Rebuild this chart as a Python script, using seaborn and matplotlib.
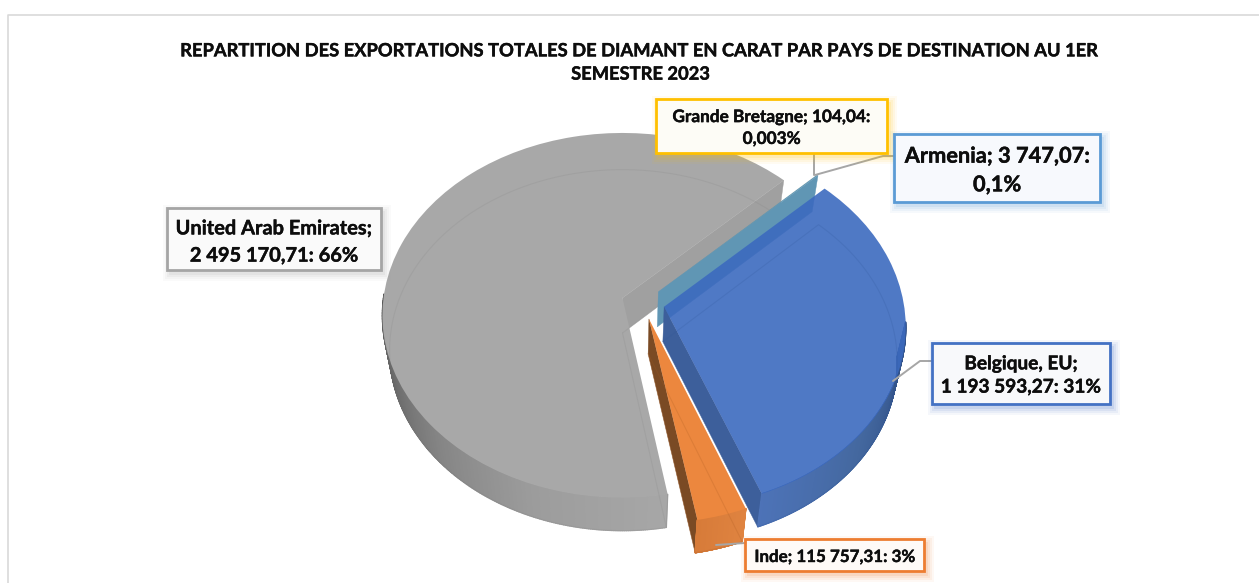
import numpy as np
import matplotlib
matplotlib.use("Agg")
import matplotlib.pyplot as plt
import matplotlib.patheffects as pe
import seaborn as sns
from matplotlib.transforms import Transform
from matplotlib.patches import Rectangle
from matplotlib.collections import PolyCollection

# ---- data ----
countries = ["United Arab Emirates", "Inde", "Belgique, EU", "Armenia", "Grande Bretagne"]
carats = [2495170.71, 115757.31, 1193593.27, 3747.07, 104.04]
label_lines = [
    "United Arab Emirates;\n2 495 170,71: 66%",
    "Inde; 115 757,31: 3%",
    "Belgique, EU;\n1 193 593,27: 31%",
    "Armenia; 3 747,07:\n0,1%",
    "Grande Bretagne; 104,04:\n0,003%",
]
title_text = ("REPARTITION DES EXPORTATIONS TOTALES DE DIAMANT EN CARAT PAR PAYS DE DESTINATION AU 1ER\n"
              "SEMESTRE 2023")

# ---- style ----
top_colors = ["#a8a8a8", "#ec873e", "#3c6abf", "#6096b4", "#ffc000"]
top_alpha = [1, 1, .90, 1, 1]
explode = [.09] * 5
START = 44
DEPTH = 35

sns.set_theme(style="white")
plt.rcParams["font.family"] = ["Lato", "DejaVu Sans"]
heavy = [pe.withStroke(linewidth=0.3, foreground="#0d0d0d")]


class Persp(Transform):
    """Maps the pie's plane onto a tilted disc seen in perspective."""
    input_dims = output_dims = 2
    is_separable = False
    has_inverse = False
    is_affine = False
    cx, cy, R, k, p = 622.5, 298.0, 239.0, 180.7, 0.095

    def __init__(self, dz=0.0, sx=1.0, sy=1.0):
        super().__init__()
        self.dz, self.sx, self.sy = dz, sx, sy

    def transform_non_affine(self, xy):
        xy = np.asarray(xy, float)
        w = 1 + self.p * xy[:, 1]
        X = self.cx + self.sx * self.R * xy[:, 0] / w
        Y = self.cy - self.sy * self.k * xy[:, 1] / w + self.dz
        return np.column_stack([X, Y])


top_map = Persp()
bot_map = Persp(DEPTH, 0.97, 0.99)

fig = plt.figure(figsize=(12.59, 5.83), dpi=100)
ax = fig.add_axes([0, 0, 1, 1])
wedges, _ = ax.pie(carats, explode=explode, startangle=START, colors=top_colors,
                   center=(0.0856, -0.0278), radius=1.0, wedgeprops=dict(linewidth=0))
ax.set_aspect("auto")
ax.set_xlim(0, 1259)
ax.set_ylim(583, 0)
ax.axis("off")
for w, a in zip(wedges, top_alpha):
    w.set_transform(top_map + ax.transData)
    w.set_alpha(a)
    w.set_linewidth(0)


def rim(w, thetas, mp):
    t = np.radians(thetas)
    pts = np.column_stack([w.center[0] + w.r * np.cos(t), w.center[1] + w.r * np.sin(t)])
    return mp.transform(pts)


def apex(w, mp):
    return mp.transform(np.array([w.center], float))[0]


def outer_wall(w, stops_t, stops_c, z, limit=0.03):
    th = np.linspace(w.theta1, w.theta2, 500)
    th = th[np.sin(np.radians(th)) < limit]
    a, b = rim(w, th, top_map), rim(w, th, bot_map)
    quads = [[a[i], a[i + 1], b[i + 1], b[i]] for i in range(len(th) - 1)]
    rgb = np.array([matplotlib.colors.to_rgb(c) for c in stops_c])
    mid = (th[:-1] + th[1:]) / 2 % 360
    cols = np.column_stack([np.interp(mid, stops_t, rgb[:, j]) for j in range(3)])
    ax.add_collection(PolyCollection(quads, facecolors=cols, edgecolors=cols, linewidths=1.0, zorder=z))


def side_wall(w, theta, color, z, alpha=1.0):
    a0, a1 = apex(w, top_map), rim(w, [theta], top_map)[0]
    b0, b1 = apex(w, bot_map), rim(w, [theta], bot_map)[0]
    ax.fill(*zip(a0, a1, b1, b0), color=color, lw=.3, zorder=z, alpha=alpha)


def ghost(w, color, z, alpha=.12):
    th = np.linspace(w.theta1, w.theta2, 200)
    r = rim(w, th, bot_map)
    c = apex(w, bot_map)
    pts = np.vstack([c, r, c])
    ax.plot(pts[:, 0], pts[:, 1], color=color, lw=.8, alpha=alpha, zorder=z)


uae, inde, belg, arm, gb = wedges

# grey slice
side_wall(uae, uae.theta1, "#a0a0a0", 1)
outer_wall(uae, [180, 195, 225, 250, 285], ["#565656", "#636363", "#868686", "#9c9c9c", "#a9a9a9"], 1)
uae.set_zorder(2)
ghost(uae, "#6e6e6e", 3)
e0, e1 = rim(uae, [uae.theta2], top_map)[0], rim(uae, [uae.theta2], bot_map)[0]
ax.plot([e0[0], e1[0]], [e0[1], e1[1]], color="#9a9a9a", lw=.6, zorder=3)

# thin slices
side_wall(arm, arm.theta1, "#6096b4", 4)
arm.set_zorder(5)
gb.set_zorder(5)

# orange slice
side_wall(inde, inde.theta1, "#7a4a24", 6)
outer_wall(inde, [279, 292], ["#d67a38", "#e08441"], 6)
inde.set_zorder(7)
ghost(inde, "#a85a20", 8, alpha=.22)

# blue slice
side_wall(belg, belg.theta1, "#3d5f9b", 9)
outer_wall(belg, [0, 290, 320, 345, 360], ["#2b4a80", "#4d73b8", "#44689f", "#34558c", "#2b4a80"], 9, limit=-0.08)
belg.set_zorder(10)
ghost(belg, "#2f5597", 11, alpha=.2)

# leader lines
leaders = [
    ([814, 814], [153, 175]),
    ([894, 883, 815], [156, 156, 175]),
    ([932, 920, 893], [361, 361, 381]),
    ([745, 716], [543, 545]),
]
for xs, ys in leaders:
    ax.plot(xs, ys, color="#a6a6a6", lw=1.4, zorder=12)

# label boxes (x0, y0, x1, y1, edge, face, font size, text shift)
boxes = [
    (167, 208, 381, 270, "#a5a5a5", "#fafafa", 14.4, 3),
    (745, 539, 924, 571, "#ed7d31", "#fefaf7", 12.2, 2),
    (932, 343, 1110, 404, "#4472c4", "#f8f9fb", 13.7, 2),
    (894, 134, 1100, 202, "#5b9bd5", "#f7f9fd", 15.7, 2.5),
    (656, 99, 887, 153, "#ffc000", "#fdfcf6", 12.4, 2),
]
for (x0, y0, x1, y1, ec, fc, fs, dy), txt in zip(boxes, label_lines):
    for g, al in zip((7, 5, 3, 1), (.05, .07, .09, .12)):
        ax.add_patch(Rectangle((x0 + 3 - g, y0 + 4 - g), x1 - x0 + 2 * g, y1 - y0 + 2 * g,
                               fc=ec, ec="none", alpha=al, zorder=13))
    ax.add_patch(Rectangle((x0, y0), x1 - x0, y1 - y0, fc=fc, ec=ec, lw=2, zorder=14))
    ax.text((x0 + x1) / 2, (y0 + y1) / 2 + dy, txt, ha="center", va="center", fontsize=fs,
            fontweight="bold", color="#0d0d0d", linespacing=1.45, zorder=15, path_effects=heavy)

# chart frame (top and left sides only reach into the picture) and title
ax.plot([8.5, 8.5, 1259], [583, 14.5, 14.5], color="#d9d9d9", lw=1.2, zorder=0)
ax.text(641, 62.5, title_text, ha="center", va="center", fontsize=13.2, fontweight="bold",
        color="#0d0d0d", linespacing=1.45, path_effects=heavy)

fig.savefig("out.png", dpi=100, facecolor="white")
